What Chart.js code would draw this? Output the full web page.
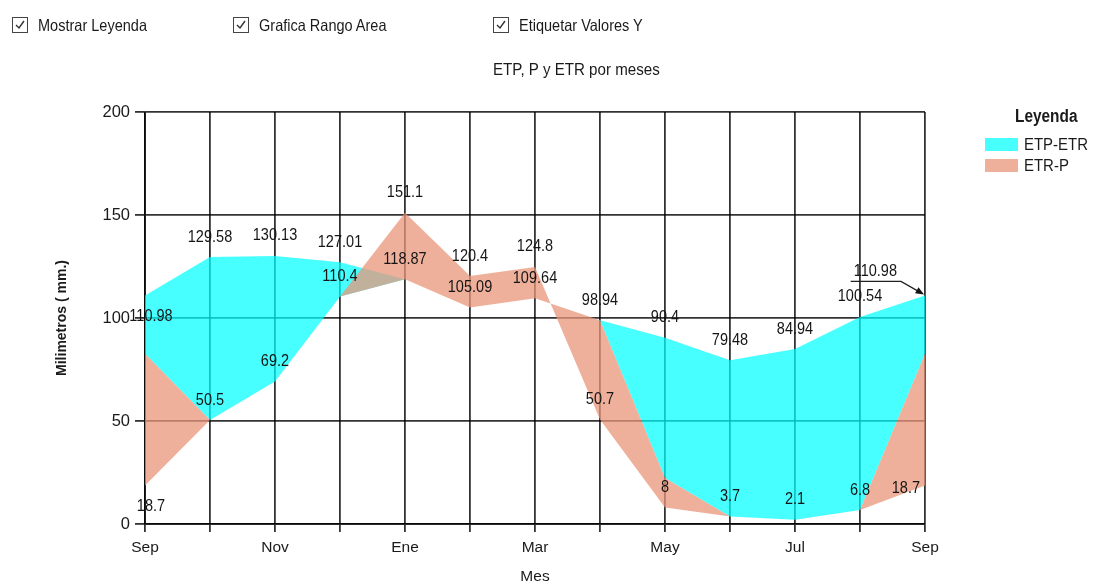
<!DOCTYPE html>
<html>
<head>
<meta charset="utf-8">
<script src="https://cdn.jsdelivr.net/npm/chart.js@4.4.1/dist/chart.umd.min.js"></script>
<style>
  body { margin: 0; background: #fff; }
  #wrap { position: relative; width: 1095px; height: 584px; overflow: hidden;
          font-family: 'Liberation Sans', Arial, sans-serif; color: #1a1a1a; }
  #wrap canvas { position: absolute; left: 0; top: 0; }
  .cb { position: absolute; top: 16px; height: 18px; display: flex; align-items: center; }
  .cb .box { width: 14px; height: 14px; border: 1px solid #444; margin-right: 10px; display: flex; align-items: center; justify-content: center; }
  .angosto { display: inline-block; transform: scaleX(0.88); transform-origin: left center; white-space: nowrap; font-size: 16.5px; }
  #titulo { position: absolute; left: 493px; top: 59px; }
  #leyenda { position: absolute; left: 985px; top: 106px; }
  #leyenda .tit { font-weight: bold; margin-left: 30px; margin-bottom: 7px; font-size: 17.5px; }
  #leyenda .item { display: flex; align-items: center; height: 21px; }
  #leyenda .sw { width: 33px; height: 13px; margin-right: 6px; flex: none; }
</style>
</head>
<body>
<div id="wrap">
  <canvas id="grafica" width="1095" height="584"></canvas>
  <div class="cb" style="left:12px"><span class="box"><svg width="12" height="12" viewBox="0 0 12 12"><path d="M2 6 L5 9 L10 2" fill="none" stroke="#333" stroke-width="1.4"/></svg></span><span class="angosto">Mostrar Leyenda</span></div>
  <div class="cb" style="left:233px"><span class="box"><svg width="12" height="12" viewBox="0 0 12 12"><path d="M2 6 L5 9 L10 2" fill="none" stroke="#333" stroke-width="1.4"/></svg></span><span class="angosto">Grafica Rango Area</span></div>
  <div class="cb" style="left:493px"><span class="box"><svg width="12" height="12" viewBox="0 0 12 12"><path d="M2 6 L5 9 L10 2" fill="none" stroke="#333" stroke-width="1.4"/></svg></span><span class="angosto">Etiquetar Valores Y</span></div>
  <div id="titulo"><span class="angosto" style="font-size:17.2px">ETP, P y ETR por meses</span></div>
  <div id="leyenda"><div class="tit"><span class="angosto" style="font-size:17.5px">Leyenda</span></div></div>
</div>
<script>
// meses del ciclo (sep a sep)
const meses = ['Sep', 'Oct', 'Nov', 'Dic', 'Ene', 'Feb', 'Mar', 'Abr', 'May', 'Jun', 'Jul', 'Ago', 'Sep'];
const etp = [110.98, 129.58, 130.13, 127.01, 118.87, 105.09, 109.64, 98.94, 90.4, 79.48, 84.94, 100.54, 110.98];
const etr = [82.6, 50.5, 69.2, 110.4, 118.87, 105.09, 109.64, 98.94, 22.3, 3.7, 2.1, 6.8, 82.6];
const prec = [18.7, 50.5, 69.2, 110.4, 151.1, 120.4, 124.8, 50.7, 8, 3.7, 2.1, 6.8, 18.7];
const yMin = 0, yMax = 200, yPaso = 50;

const fuente = "'Liberation Sans', Arial, sans-serif";
const cian = 'rgba(0, 255, 255, 0.72)';
const salmon = 'rgba(233, 150, 122, 0.75)';
const rejilla = 'rgba(0, 0, 0, 0.8)';
const angosto = 0.88;

// etiquetas de valores Y con un acomodo sencillo (arriba, abajo, izquierda o flecha)
const etiquetas = {
  id: 'etiquetas',
  afterDraw(chart) {
    const ctx = chart.ctx, area = chart.chartArea;
    ctx.save();
    ctx.font = '16.5px ' + fuente;
    ctx.fillStyle = '#151515';
    ctx.textAlign = 'center';
    ctx.textBaseline = 'middle';
    const cajas = [];
    const choca = (b) => cajas.some(c => b.x1 < c.x2 && b.x2 > c.x1 && b.y1 < c.y2 && b.y2 > c.y1);
    const caja = (cx, cy, w) => ({ x1: cx - w / 2, x2: cx + w / 2, y1: cy - 8, y2: cy + 8 });
    const texto = (txt, cx, cy) => {
      ctx.save();
      ctx.translate(cx, cy);
      ctx.scale(angosto, 1);
      ctx.fillText(txt, 0, 0);
      ctx.restore();
    };
    chart.data.datasets.forEach((ds, di) => {
      if (!ds.etiquetar) return;
      chart.getDatasetMeta(di).data.forEach((pt, i) => {
        const txt = String(ds.data[i]);
        const w = ctx.measureText(txt).width * angosto;
        let cx = pt.x, cy = pt.y - 20, flecha = false;
        if (cx - w / 2 < area.left) {
          cx = pt.x + 6; cy = pt.y + 21;
        } else if (choca(caja(cx, cy, w))) {
          cy = pt.y + 20;
        }
        if (cx + w / 2 > area.right) {
          cx = pt.x - w / 2 - 5; cy = pt.y + 3;
          if (choca(caja(cx, cy, w))) {
            cx = pt.x - 28 - w / 2; cy = pt.y - 24; flecha = true;
          }
        }
        cajas.push(caja(cx, cy, w));
        texto(txt, cx, cy);
        if (flecha) {
          const y0 = cy + 10, x1 = cx + w / 2 + 4;
          ctx.strokeStyle = '#222';
          ctx.lineWidth = 1.3;
          ctx.beginPath();
          ctx.moveTo(cx - w / 2 - 3, y0);
          ctx.lineTo(x1, y0);
          ctx.lineTo(pt.x - 3, pt.y - 2);
          ctx.stroke();
          const ang = Math.atan2(pt.y - 1 - y0, pt.x - 1 - x1);
          ctx.beginPath();
          ctx.moveTo(pt.x - 1, pt.y - 1);
          ctx.lineTo(pt.x - 1 - 9 * Math.cos(ang - 0.4), pt.y - 1 - 9 * Math.sin(ang - 0.4));
          ctx.lineTo(pt.x - 1 - 9 * Math.cos(ang + 0.4), pt.y - 1 - 9 * Math.sin(ang + 0.4));
          ctx.closePath();
          ctx.fill();
        }
      });
    });
    ctx.restore();
  }
};

const chart = new Chart(document.getElementById('grafica'), {
  type: 'line',
  data: {
    labels: meses,
    datasets: [
      { label: 'ETR', data: etr, borderWidth: 0, borderColor: 'transparent', pointRadius: 0, fill: false },
      { label: 'ETR-P', data: prec, borderWidth: 0, borderColor: 'transparent', pointRadius: 0,
        backgroundColor: salmon, fill: { target: 0 }, etiquetar: true },
      { label: 'ETP-ETR', data: etp, borderWidth: 0, borderColor: 'transparent', pointRadius: 0,
        backgroundColor: cian, fill: { target: 0 }, etiquetar: true }
    ]
  },
  options: {
    responsive: false,
    animation: false,
    tension: 0,
    layout: { padding: { top: 112, right: 170, left: 0, bottom: 0 } },
    plugins: { legend: { display: false }, tooltip: { enabled: false } },
    scales: {
      x: {
        z: 1,
        offset: false,
        grid: { color: rejilla, lineWidth: 1.8, tickLength: 8 },
        border: { color: rejilla, width: 1.8 },
        ticks: {
          autoSkip: false, maxRotation: 0, padding: 6, color: '#1a1a1a',
          font: { family: fuente, size: 15.5 },
          callback: (v, i) => (i % 2 === 0 ? meses[i] : '')
        },
        title: { display: true, text: 'Mes', color: '#1a1a1a', padding: 0,
                 font: { family: fuente, size: 15.5, lineHeight: 0.9 } },
        afterFit: s => { s.height = 60; }
      },
      y: {
        z: 1,
        min: yMin, max: yMax,
        grid: { color: rejilla, lineWidth: 1.8, tickLength: 10 },
        border: { color: rejilla, width: 1.8 },
        ticks: { stepSize: yPaso, padding: 5, color: '#1a1a1a', font: { family: fuente, size: 16.5 } },
        title: { display: true, text: 'Milimetros ( mm.)', color: '#1a1a1a', padding: { top: 54, bottom: 0 },
                 font: { family: fuente, size: 14, weight: 'bold' } },
        afterFit: s => { s.width = 145; }
      }
    }
  },
  plugins: [etiquetas]
});

// leyenda en html a partir de los datasets con relleno
const ley = document.getElementById('leyenda');
['ETP-ETR', 'ETR-P'].forEach(nombre => {
  const ds = chart.data.datasets.find(d => d.label === nombre);
  const it = document.createElement('div');
  it.className = 'item';
  it.innerHTML = '<span class="sw" style="background:' + ds.backgroundColor + '"></span>' +
                 '<span class="angosto" style="font-size:17px">' + ds.label + '</span>';
  ley.appendChild(it);
});
</script>
</body>
</html>
